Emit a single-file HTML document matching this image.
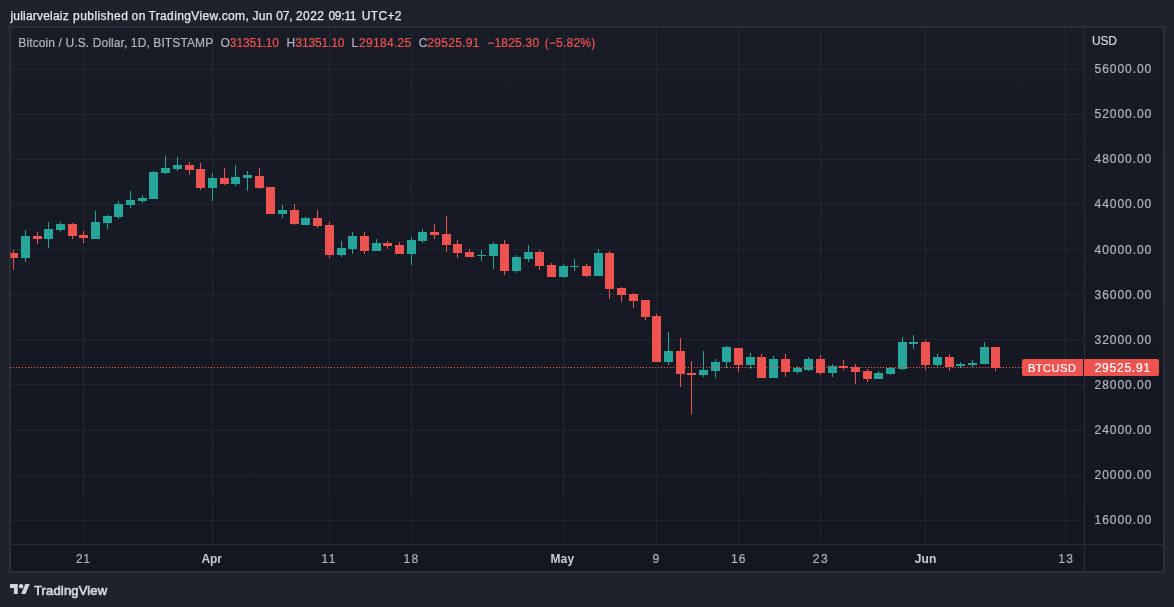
<!DOCTYPE html>
<html><head><meta charset="utf-8"><title>BTCUSD chart</title>
<style>
html,body{margin:0;padding:0}
body{width:1174px;height:607px;background:#1e222d;position:relative;overflow:hidden;font-family:"Liberation Sans",sans-serif;font-size:12px;color:#b2b5be}
#all{position:absolute;left:0;top:0;width:1174px;height:607px;will-change:opacity}
i{position:absolute;display:block}
span{position:absolute;white-space:nowrap;line-height:normal;-webkit-text-stroke:0.2px}
#title span{color:#e6e8ee;-webkit-text-stroke:0.25px}
#box{position:absolute;left:9px;top:26px;width:1152px;height:543px;border:2px solid #2a2e39;background:linear-gradient(to bottom,#181c27 0,#131722 516px,#131722 100%)}
.hg{left:11px;width:1073px;height:1px;background:rgba(240,243,250,0.06)}
.vg{top:28px;width:1px;height:516px;background:rgba(240,243,250,0.06)}
#pax{left:1084px;top:28px;width:1px;height:543px;background:#2a2e39}
#tax{left:11px;top:544px;width:1152px;height:1px;background:#2a2e39}
.g{background:#26a69a}
.r{background:#ef5350}
.pl{left:1094.5px;letter-spacing:0.956px}
.tl{top:552px}
.tl.b{font-weight:bold;color:#c9ccd4;-webkit-text-stroke:0}
.lg{color:#b2b5be}
.lr{color:#ef5350}
#dot{position:absolute;left:9px;top:366px}
#lb1{left:1022px;top:359px;width:61px;height:17px;background:#ef5350;border-radius:2px 0 0 2px}
#lb2{left:1084px;top:359px;width:75px;height:17px;background:#ef5350;border-radius:0 2px 2px 0}
#lt1{color:#fff;font-size:11px}
#lt2{color:#fff}
#logo{position:absolute;left:10px;top:584px}
#tv{color:#d1d4dc;font-size:13px;-webkit-text-stroke:0.7px}
</style></head><body><div id="all">
<div id="title"><span style="left:10.4px;top:9px;letter-spacing:0.21px;">juliarvelaiz</span><span style="left:73.1px;top:9px;letter-spacing:0.42px;">published</span><span style="left:131.6px;top:9px;letter-spacing:0.54px;">on</span><span style="left:148.4px;top:9px;letter-spacing:0.38px;">TradingView.com,</span><span style="left:252.4px;top:9px;letter-spacing:0.38px;">Jun</span><span style="left:276.3px;top:9px;letter-spacing:-0.24px;">07,</span><span style="left:296.0px;top:9px;letter-spacing:0.41px;">2022</span><span style="left:328.4px;top:9px;letter-spacing:-0.25px;">09:11</span><span style="left:361.8px;top:9px;letter-spacing:0.31px;">UTC+2</span></div>
<div id="box"></div>
<i class="hg" style="top:69px"></i><i class="hg" style="top:114px"></i><i class="hg" style="top:159px"></i><i class="hg" style="top:204px"></i><i class="hg" style="top:249px"></i><i class="hg" style="top:294px"></i><i class="hg" style="top:339px"></i><i class="hg" style="top:384px"></i><i class="hg" style="top:430px"></i><i class="hg" style="top:475px"></i><i class="hg" style="top:520px"></i>
<i class="vg" style="left:83px"></i><i class="vg" style="left:212px"></i><i class="vg" style="left:329px"></i><i class="vg" style="left:411px"></i><i class="vg" style="left:563px"></i><i class="vg" style="left:656px"></i><i class="vg" style="left:738px"></i><i class="vg" style="left:820px"></i><i class="vg" style="left:925px"></i><i class="vg" style="left:1065px"></i>
<i id="pax"></i><i id="tax"></i>
<i class="r" style="left:10px;top:253px;width:1px;height:5px;opacity:.55"></i>
<i class="r" style="left:13px;top:250px;width:1px;height:20px"></i>
<i class="r" style="left:11px;top:253px;width:7px;height:5px"></i>
<i class="g" style="left:25px;top:230px;width:1px;height:32px"></i>
<i class="g" style="left:21px;top:236px;width:9px;height:22px"></i>
<i class="r" style="left:37px;top:232px;width:1px;height:12px"></i>
<i class="r" style="left:33px;top:236px;width:9px;height:3px"></i>
<i class="g" style="left:48px;top:222px;width:1px;height:26px"></i>
<i class="g" style="left:44px;top:229px;width:9px;height:10px"></i>
<i class="g" style="left:60px;top:222px;width:1px;height:10px"></i>
<i class="g" style="left:56px;top:224px;width:9px;height:6px"></i>
<i class="r" style="left:72px;top:223px;width:1px;height:16px"></i>
<i class="r" style="left:68px;top:224px;width:9px;height:12px"></i>
<i class="r" style="left:83px;top:231px;width:1px;height:12px"></i>
<i class="r" style="left:79px;top:235px;width:9px;height:3px"></i>
<i class="g" style="left:95px;top:211px;width:1px;height:28px"></i>
<i class="g" style="left:91px;top:222px;width:9px;height:17px"></i>
<i class="g" style="left:107px;top:215px;width:1px;height:14px"></i>
<i class="g" style="left:103px;top:216px;width:9px;height:7px"></i>
<i class="g" style="left:118px;top:201px;width:1px;height:18px"></i>
<i class="g" style="left:114px;top:204px;width:9px;height:13px"></i>
<i class="g" style="left:130px;top:191px;width:1px;height:17px"></i>
<i class="g" style="left:126px;top:200px;width:9px;height:5px"></i>
<i class="g" style="left:142px;top:195px;width:1px;height:8px"></i>
<i class="g" style="left:138px;top:198px;width:9px;height:3px"></i>
<i class="g" style="left:153px;top:171px;width:1px;height:28px"></i>
<i class="g" style="left:149px;top:172px;width:9px;height:27px"></i>
<i class="g" style="left:165px;top:156px;width:1px;height:18px"></i>
<i class="g" style="left:161px;top:168px;width:9px;height:5px"></i>
<i class="g" style="left:177px;top:157px;width:1px;height:14px"></i>
<i class="g" style="left:173px;top:165px;width:9px;height:4px"></i>
<i class="r" style="left:189px;top:162px;width:1px;height:13px"></i>
<i class="r" style="left:185px;top:165px;width:9px;height:5px"></i>
<i class="r" style="left:200px;top:163px;width:1px;height:27px"></i>
<i class="r" style="left:196px;top:169px;width:9px;height:19px"></i>
<i class="g" style="left:212px;top:173px;width:1px;height:28px"></i>
<i class="g" style="left:208px;top:178px;width:9px;height:10px"></i>
<i class="r" style="left:224px;top:168px;width:1px;height:17px"></i>
<i class="r" style="left:220px;top:178px;width:9px;height:6px"></i>
<i class="g" style="left:235px;top:165px;width:1px;height:21px"></i>
<i class="g" style="left:231px;top:177px;width:9px;height:7px"></i>
<i class="g" style="left:247px;top:171px;width:1px;height:20px"></i>
<i class="g" style="left:243px;top:175px;width:9px;height:3px"></i>
<i class="r" style="left:259px;top:168px;width:1px;height:21px"></i>
<i class="r" style="left:255px;top:176px;width:9px;height:12px"></i>
<i class="r" style="left:270px;top:187px;width:1px;height:27px"></i>
<i class="r" style="left:266px;top:187px;width:9px;height:27px"></i>
<i class="g" style="left:282px;top:205px;width:1px;height:13px"></i>
<i class="g" style="left:278px;top:210px;width:9px;height:4px"></i>
<i class="r" style="left:294px;top:204px;width:1px;height:21px"></i>
<i class="r" style="left:290px;top:210px;width:9px;height:14px"></i>
<i class="g" style="left:305px;top:217px;width:1px;height:8px"></i>
<i class="g" style="left:301px;top:218px;width:9px;height:7px"></i>
<i class="r" style="left:317px;top:210px;width:1px;height:18px"></i>
<i class="r" style="left:313px;top:218px;width:9px;height:8px"></i>
<i class="r" style="left:329px;top:222px;width:1px;height:36px"></i>
<i class="r" style="left:325px;top:225px;width:9px;height:30px"></i>
<i class="g" style="left:341px;top:241px;width:1px;height:16px"></i>
<i class="g" style="left:337px;top:248px;width:9px;height:7px"></i>
<i class="g" style="left:352px;top:232px;width:1px;height:22px"></i>
<i class="g" style="left:348px;top:236px;width:9px;height:13px"></i>
<i class="r" style="left:364px;top:232px;width:1px;height:22px"></i>
<i class="r" style="left:360px;top:236px;width:9px;height:15px"></i>
<i class="g" style="left:376px;top:239px;width:1px;height:12px"></i>
<i class="g" style="left:372px;top:243px;width:9px;height:8px"></i>
<i class="r" style="left:387px;top:241px;width:1px;height:8px"></i>
<i class="r" style="left:383px;top:243px;width:9px;height:3px"></i>
<i class="r" style="left:399px;top:242px;width:1px;height:12px"></i>
<i class="r" style="left:395px;top:245px;width:9px;height:9px"></i>
<i class="g" style="left:411px;top:237px;width:1px;height:28px"></i>
<i class="g" style="left:407px;top:240px;width:9px;height:14px"></i>
<i class="g" style="left:422px;top:229px;width:1px;height:14px"></i>
<i class="g" style="left:418px;top:232px;width:9px;height:9px"></i>
<i class="r" style="left:434px;top:224px;width:1px;height:15px"></i>
<i class="r" style="left:430px;top:232px;width:9px;height:3px"></i>
<i class="r" style="left:446px;top:216px;width:1px;height:36px"></i>
<i class="r" style="left:442px;top:234px;width:9px;height:11px"></i>
<i class="r" style="left:457px;top:240px;width:1px;height:18px"></i>
<i class="r" style="left:453px;top:244px;width:9px;height:9px"></i>
<i class="r" style="left:469px;top:249px;width:1px;height:8px"></i>
<i class="r" style="left:465px;top:252px;width:9px;height:5px"></i>
<i class="g" style="left:481px;top:250px;width:1px;height:11px"></i>
<i class="g" style="left:477px;top:255px;width:9px;height:1px"></i>
<i class="g" style="left:493px;top:242px;width:1px;height:27px"></i>
<i class="g" style="left:489px;top:244px;width:9px;height:12px"></i>
<i class="r" style="left:504px;top:240px;width:1px;height:35px"></i>
<i class="r" style="left:500px;top:244px;width:9px;height:27px"></i>
<i class="g" style="left:516px;top:255px;width:1px;height:18px"></i>
<i class="g" style="left:512px;top:257px;width:9px;height:14px"></i>
<i class="g" style="left:528px;top:245px;width:1px;height:17px"></i>
<i class="g" style="left:524px;top:252px;width:9px;height:7px"></i>
<i class="r" style="left:539px;top:250px;width:1px;height:20px"></i>
<i class="r" style="left:535px;top:252px;width:9px;height:14px"></i>
<i class="r" style="left:551px;top:263px;width:1px;height:14px"></i>
<i class="r" style="left:547px;top:265px;width:9px;height:12px"></i>
<i class="g" style="left:563px;top:264px;width:1px;height:14px"></i>
<i class="g" style="left:559px;top:266px;width:9px;height:11px"></i>
<i class="g" style="left:574px;top:259px;width:1px;height:12px"></i>
<i class="g" style="left:570px;top:266px;width:9px;height:1px"></i>
<i class="r" style="left:586px;top:264px;width:1px;height:13px"></i>
<i class="r" style="left:582px;top:266px;width:9px;height:10px"></i>
<i class="g" style="left:598px;top:249px;width:1px;height:27px"></i>
<i class="g" style="left:594px;top:253px;width:9px;height:23px"></i>
<i class="r" style="left:609px;top:251px;width:1px;height:48px"></i>
<i class="r" style="left:605px;top:253px;width:9px;height:36px"></i>
<i class="r" style="left:621px;top:287px;width:1px;height:15px"></i>
<i class="r" style="left:617px;top:288px;width:9px;height:7px"></i>
<i class="r" style="left:633px;top:293px;width:1px;height:15px"></i>
<i class="r" style="left:629px;top:294px;width:9px;height:7px"></i>
<i class="r" style="left:645px;top:300px;width:1px;height:20px"></i>
<i class="r" style="left:641px;top:300px;width:9px;height:17px"></i>
<i class="r" style="left:656px;top:314px;width:1px;height:48px"></i>
<i class="r" style="left:652px;top:316px;width:9px;height:46px"></i>
<i class="g" style="left:668px;top:332px;width:1px;height:33px"></i>
<i class="g" style="left:664px;top:351px;width:9px;height:11px"></i>
<i class="r" style="left:680px;top:338px;width:1px;height:49px"></i>
<i class="r" style="left:676px;top:351px;width:9px;height:23px"></i>
<i class="r" style="left:691px;top:361px;width:1px;height:53px"></i>
<i class="r" style="left:687px;top:373px;width:9px;height:2px"></i>
<i class="g" style="left:703px;top:351px;width:1px;height:26px"></i>
<i class="g" style="left:699px;top:370px;width:9px;height:5px"></i>
<i class="g" style="left:715px;top:359px;width:1px;height:19px"></i>
<i class="g" style="left:711px;top:362px;width:9px;height:9px"></i>
<i class="g" style="left:726px;top:346px;width:1px;height:22px"></i>
<i class="g" style="left:722px;top:347px;width:9px;height:15px"></i>
<i class="r" style="left:738px;top:348px;width:1px;height:24px"></i>
<i class="r" style="left:734px;top:348px;width:9px;height:17px"></i>
<i class="g" style="left:750px;top:353px;width:1px;height:16px"></i>
<i class="g" style="left:746px;top:357px;width:9px;height:8px"></i>
<i class="r" style="left:761px;top:354px;width:1px;height:24px"></i>
<i class="r" style="left:757px;top:357px;width:9px;height:21px"></i>
<i class="g" style="left:773px;top:356px;width:1px;height:22px"></i>
<i class="g" style="left:769px;top:359px;width:9px;height:19px"></i>
<i class="r" style="left:785px;top:354px;width:1px;height:23px"></i>
<i class="r" style="left:781px;top:359px;width:9px;height:13px"></i>
<i class="g" style="left:797px;top:366px;width:1px;height:8px"></i>
<i class="g" style="left:793px;top:368px;width:9px;height:4px"></i>
<i class="g" style="left:808px;top:357px;width:1px;height:14px"></i>
<i class="g" style="left:804px;top:359px;width:9px;height:11px"></i>
<i class="r" style="left:820px;top:355px;width:1px;height:20px"></i>
<i class="r" style="left:816px;top:359px;width:9px;height:14px"></i>
<i class="g" style="left:832px;top:364px;width:1px;height:13px"></i>
<i class="g" style="left:828px;top:366px;width:9px;height:7px"></i>
<i class="r" style="left:843px;top:360px;width:1px;height:10px"></i>
<i class="r" style="left:839px;top:366px;width:9px;height:2px"></i>
<i class="r" style="left:855px;top:364px;width:1px;height:20px"></i>
<i class="r" style="left:851px;top:367px;width:9px;height:5px"></i>
<i class="r" style="left:867px;top:369px;width:1px;height:13px"></i>
<i class="r" style="left:863px;top:371px;width:9px;height:8px"></i>
<i class="g" style="left:878px;top:371px;width:1px;height:8px"></i>
<i class="g" style="left:874px;top:373px;width:9px;height:6px"></i>
<i class="g" style="left:890px;top:367px;width:1px;height:8px"></i>
<i class="g" style="left:886px;top:368px;width:9px;height:6px"></i>
<i class="g" style="left:902px;top:337px;width:1px;height:33px"></i>
<i class="g" style="left:898px;top:342px;width:9px;height:27px"></i>
<i class="g" style="left:913px;top:335px;width:1px;height:14px"></i>
<i class="g" style="left:909px;top:342px;width:9px;height:2px"></i>
<i class="r" style="left:925px;top:340px;width:1px;height:30px"></i>
<i class="r" style="left:921px;top:342px;width:9px;height:23px"></i>
<i class="g" style="left:937px;top:354px;width:1px;height:13px"></i>
<i class="g" style="left:933px;top:357px;width:9px;height:8px"></i>
<i class="r" style="left:949px;top:354px;width:1px;height:17px"></i>
<i class="r" style="left:945px;top:357px;width:9px;height:10px"></i>
<i class="g" style="left:960px;top:362px;width:1px;height:6px"></i>
<i class="g" style="left:956px;top:364px;width:9px;height:2px"></i>
<i class="g" style="left:972px;top:360px;width:1px;height:7px"></i>
<i class="g" style="left:968px;top:363px;width:9px;height:2px"></i>
<i class="g" style="left:984px;top:342px;width:1px;height:22px"></i>
<i class="g" style="left:980px;top:347px;width:9px;height:17px"></i>
<i class="r" style="left:995px;top:347px;width:1px;height:24px"></i>
<i class="r" style="left:991px;top:347px;width:9px;height:21px"></i>
<svg id="dot" width="1014" height="3" viewBox="0 0 1014 3"><line x1="0.9" y1="1.5" x2="1014" y2="1.5" stroke="#ef5350" stroke-width="1.2" stroke-dasharray="1.2 1.8"/></svg>
<span class="lg" style="left:18.3px;top:36px;letter-spacing:0.11px;">Bitcoin / U.S. Dollar, 1D, BITSTAMP</span>
<span class="lg" style="left:220.55px;top:36px;letter-spacing:0px;">O</span><span class="lr" style="left:229.85px;top:36px;letter-spacing:-0.134px;">31351.10</span>
<span class="lg" style="left:286.45px;top:36px;letter-spacing:0px;">H</span><span class="lr" style="left:295.55px;top:36px;letter-spacing:-0.184px;">31351.10</span>
<span class="lg" style="left:351.45px;top:36px;letter-spacing:0px;">L</span><span class="lr" style="left:359.05px;top:36px;letter-spacing:0.306px;">29184.25</span>
<span class="lg" style="left:418.65px;top:36px;letter-spacing:0px;">C</span><span class="lr" style="left:427.35px;top:36px;letter-spacing:0.276px;">29525.91</span>
<span class="lr" style="left:487.15px;top:36px;letter-spacing:0.236px;">−1825.30</span><span class="lr" style="left:544.65px;top:36px;letter-spacing:0.226px;">(−5.82%)</span>
<span id="usd" style="left:1091.9px;top:34px;letter-spacing:-0.14px;color:#d1d4dc">USD</span>
<span class="pl" style="top:62px">56000.00</span><span class="pl" style="top:107px">52000.00</span><span class="pl" style="top:152px">48000.00</span><span class="pl" style="top:197px">44000.00</span><span class="pl" style="top:243px">40000.00</span><span class="pl" style="top:288px">36000.00</span><span class="pl" style="top:333px">32000.00</span><span class="pl" style="top:378px">28000.00</span><span class="pl" style="top:423px">24000.00</span><span class="pl" style="top:468px">20000.00</span><span class="pl" style="top:513px">16000.00</span>
<span class="tl" style="left:75.9px;letter-spacing:0.7px">21</span><span class="tl b" style="left:201.4px;letter-spacing:-0.09px">Apr</span><span class="tl" style="left:321.5px;letter-spacing:1.39px">11</span><span class="tl" style="left:403.4px;letter-spacing:1.35px">18</span><span class="tl b" style="left:550.4px;letter-spacing:0.17px">May</span><span class="tl" style="left:652.5px;letter-spacing:0px">9</span><span class="tl" style="left:731.0px;letter-spacing:0.97px">16</span><span class="tl" style="left:812.7px;letter-spacing:1.56px">23</span><span class="tl b" style="left:914.7px;letter-spacing:0.11px">Jun</span><span class="tl" style="left:1058.3px;letter-spacing:1.25px">13</span>
<i id="lb1"></i><i id="lb2"></i>
<span id="lt1" style="left:1027.9px;top:361.6px;letter-spacing:0.57px;">BTCUSD</span><span id="lt2" style="left:1094.7px;top:360.8px;letter-spacing:0.756px;">29525.91</span>
<svg id="logo" width="20" height="10" viewBox="0 4 36 18"><path fill="#d1d4dc" d="M14 22H7V11H0V4h14v18zM28 22h-8l7.5-18h8L28 22z"/><circle fill="#d1d4dc" cx="20" cy="8" r="4"/></svg>
<span id="tv" style="left:33.9px;top:583px;letter-spacing:0.17px;">TradingView</span>
</div></body></html>
